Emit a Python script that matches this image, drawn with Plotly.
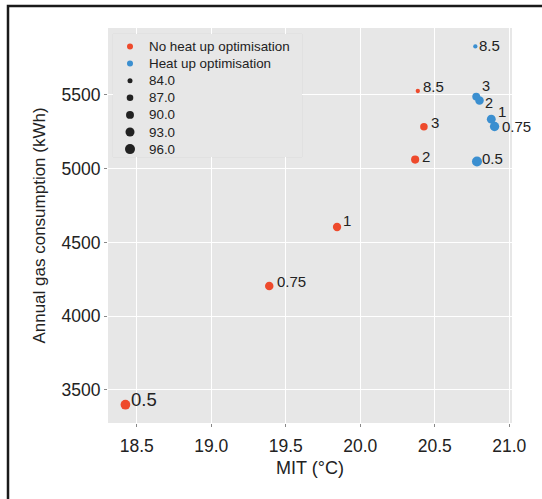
import plotly.graph_objects as go
import math

# ---- data ----
mode_labels = ["No heat up optimisation", "Heat up optimisation"]
setting_labels = ["0.5", "0.75", "1", "2", "3", "8.5"]

red_mit = [18.424, 19.389, 19.844, 20.368, 20.427, 20.386]
red_gas = [3400, 4205, 4605, 5062, 5284, 5527]
red_size = [95.0, 91.5, 91.0, 90.5, 89.0, 83.0]

blue_mit = [20.783, 20.901, 20.879, 20.800, 20.778, 20.772]
blue_gas = [5049, 5286, 5336, 5462, 5489, 5829]
blue_size = [96.0, 94.0, 92.5, 91.5, 90.0, 83.0]

legend_sizes = [84.0, 87.0, 90.0, 93.0, 96.0]

x_ticks = [18.5, 19.0, 19.5, 20.0, 20.5, 21.0]
y_ticks = [3500, 4000, 4500, 5000, 5500]

# ---- style ----
RED = "#ee4a2c"
BLUE = "#3b8fd0"
DOT = "#222222"
TXT = "#222222"
FONT = "Liberation Sans, Arial, sans-serif"

W, H = 542, 499
ML, MR, MT, MB = 108, 30, 28, 76


def diam(v):
    area = 25 + (v - 84.0) * 6.3
    return math.sqrt(max(area, 4))


# label offsets (dx px, dy px, font size)
red_off = [(4, 5, 18.5), (6, 4, 15), (4, 6, 15), (5, 3, 15), (5, 4, 15), (3, 4, 15)]
blue_off = [(3, 3, 15), (5, 0, 15), (5, 8, 15), (3, -2, 14.5), (4, 11, 14.5), (2, 1, 15)]

fig = go.Figure()

fig.add_trace(go.Scatter(
    x=red_mit, y=red_gas, mode="markers", name=mode_labels[0],
    marker=dict(color=RED, size=[diam(v) for v in red_size], line=dict(width=0), opacity=1),
    showlegend=False))
fig.add_trace(go.Scatter(
    x=blue_mit, y=blue_gas, mode="markers", name=mode_labels[1],
    marker=dict(color=BLUE, size=[diam(v) for v in blue_size], line=dict(width=0), opacity=1),
    showlegend=False))

# ---- manual legend in an inset axis ----
leg_labels = mode_labels + [f"{v:.1f}" for v in legend_sizes]
leg_colors = [RED, BLUE] + [DOT] * len(legend_sizes)
leg_dsizes = [6, 6] + [diam(v) for v in legend_sizes]
leg_rows = list(range(len(leg_labels)))

fig.add_trace(go.Scatter(
    x=[0] * len(leg_rows), y=leg_rows, mode="markers",
    marker=dict(color=leg_colors, size=leg_dsizes, line=dict(width=0), opacity=1),
    xaxis="x2", yaxis="y2", showlegend=False, hoverinfo="skip"))

annotations = []
for lab, r in zip(leg_labels, leg_rows):
    annotations.append(dict(
        x=1, y=r, xref="x2", yref="y2", text=lab, showarrow=False,
        xanchor="left", yanchor="middle", xshift=-2,
        font=dict(size=13.4, color=TXT, family=FONT)))

for xs, ys, offs in ((red_mit, red_gas, red_off), (blue_mit, blue_gas, blue_off)):
    for xv, yv, lab, (dx, dy, fs) in zip(xs, ys, setting_labels, offs):
        annotations.append(dict(
            x=xv, y=yv, text=lab, showarrow=False, xanchor="left", yanchor="middle",
            xshift=dx, yshift=dy, font=dict(size=fs, color=TXT, family=FONT)))

pw = W - ML - MR
ph = H - MT - MB
px = lambda p: (p - ML) / pw
py = lambda p: (H - MB - p) / ph

# legend box geometry (pixels)
LB_L, LB_R, LB_T, LB_B = 113, 302, 34, 157
ROW = 17.1
MK_X = 130
unit_x = 19.0

frame_path = (f"M {px(8):.5f},{py(520):.5f} L {px(8):.5f},{py(6):.5f} "
              f"L {px(570):.5f},{py(6):.5f}")

shapes = [
    dict(type="rect", xref="x2 domain", yref="y2 domain", x0=0, x1=1, y0=0, y1=1,
         fillcolor="#ececec", line=dict(color="#dcdcdc", width=1), layer="below"),
    dict(type="path", xref="paper", yref="paper", path=frame_path,
         fillcolor="rgba(0,0,0,0)",
         line=dict(color="#1a1a1a", width=2.5), layer="above"),
]

fig.update_layout(
    width=W, height=H,
    margin=dict(l=ML, r=MR, t=MT, b=MB),
    paper_bgcolor="white",
    plot_bgcolor="#e7e7e7",
    font=dict(family=FONT, color=TXT, size=13),
    annotations=annotations,
    shapes=shapes,
    showlegend=False,
    xaxis=dict(
        range=[18.307, 21.018], tickvals=x_ticks,
        ticktext=[f"{t:.1f}" for t in x_ticks],
        showgrid=True, gridcolor="white", gridwidth=1.3,
        zeroline=False, showline=False,
        ticks="outside", ticklen=3, tickcolor="#888888", tickwidth=1,
        ticklabelstandoff=4,
        tickfont=dict(size=17.5, color=TXT),
        title=dict(text="MIT (°C)", font=dict(size=18, color=TXT), standoff=6),
        domain=[0, 1],
    ),
    yaxis=dict(
        range=[3276, 5954], tickvals=y_ticks,
        ticktext=[str(t) for t in y_ticks],
        showgrid=True, gridcolor="white", gridwidth=1.3,
        zeroline=False, showline=False,
        ticks="outside", ticklen=3, tickcolor="#888888", tickwidth=1,
        tickfont=dict(size=17.5, color=TXT),
        title=dict(text="Annual gas consumption (kWh)", font=dict(size=17, color=TXT), standoff=11),
        domain=[0, 1],
    ),
    xaxis2=dict(
        domain=[px(LB_L), px(LB_R)], anchor="y2", visible=False, fixedrange=True,
        range=[-(MK_X - LB_L) / unit_x, (LB_R - MK_X) / unit_x],
    ),
    yaxis2=dict(
        domain=[py(LB_B), py(LB_T)], anchor="x2", visible=False, fixedrange=True,
        range=[(LB_B - LB_T - 12.5) / ROW, -12.5 / ROW],
    ),
)

fig.write_html(
    "out.html",
    config={"displayModeBar": False},
    post_script="document.body.style.margin='0';document.documentElement.style.overflow='hidden';",
)
